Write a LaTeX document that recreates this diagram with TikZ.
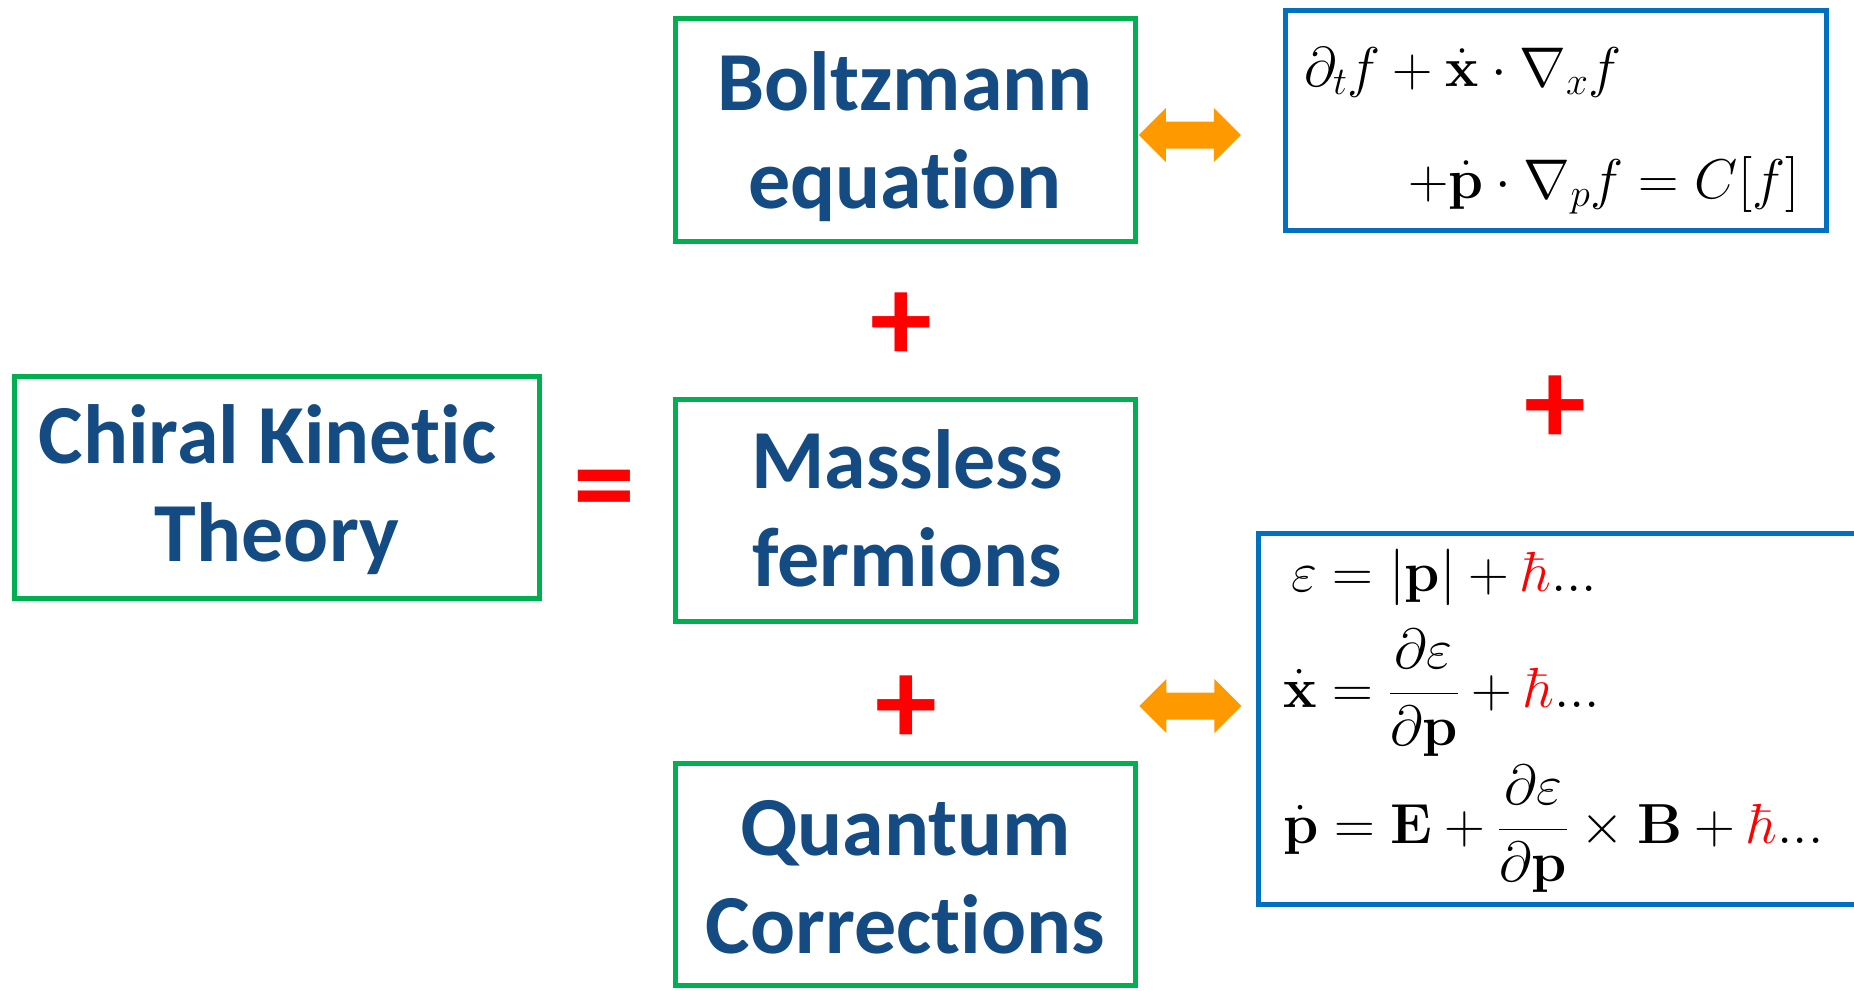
\RequirePackage{fix-cm}
\documentclass[tikz,border=0pt]{standalone}
\usepackage[no-math]{fontspec}
\newfontfamily\carl[Ligatures={NoCommon,NoRare,NoDiscretionary}]{Carlito}
\usetikzlibrary{calc}
\definecolor{gbox}{HTML}{00B050}
\definecolor{bbox}{HTML}{0070C0}
\definecolor{txt}{HTML}{134B82}
\definecolor{arr}{HTML}{FF9900}
\definecolor{redp}{HTML}{FF0000}
\begin{document}
\begin{tikzpicture}[x=1pt,y=-1pt,
  greenbox/.style={draw=gbox,line width=5pt,inner sep=0pt,minimum width=460pt,minimum height=222pt},
  bluebox/.style={draw=bbox,line width=4.5pt,inner sep=0pt},
  lbl/.style={font=\carl\bfseries\fontsize{84}{98}\selectfont,text=txt,align=center,inner sep=0pt,anchor=base},
  sym/.style={font=\carl\bfseries\fontsize{124}{124}\selectfont,text=redp,inner sep=0pt},
  eqt/.style={font=\fontsize{56}{60}\selectfont,inner sep=0pt,anchor=base west},
  eqb/.style={font=\fontsize{56.5}{60}\selectfont,inner sep=0pt,anchor=base west},
  dbl/.style={fill=arr}]
\useasboundingbox (0,0) rectangle (1854,990);
\clip (0,0) rectangle (1854,990);
\fill[white] (0,0) rectangle (1854,990);
% green boxes
\node[greenbox] (boltz) at (905.25,130) {};
\node[greenbox,minimum width=524.5pt] (chiral) at (276.75,487) {};
\node[greenbox] (mass) at (905.8,510) {};
\node[greenbox] (quant) at (905.25,874.25) {};
% labels (anchor = baseline of last line)
\node[lbl] (tboltz) at (905,208) {Boltzmann\\equation};
\node[lbl] (tchiral) at (277,561.5) {Chiral Kinetic\hspace*{19pt}\\Theory};
\node[lbl] (tmass) at (907,586.5) {Massless\\fermions};
\node[lbl] (tquant) at (905.5,953) {Quantum\\Corrections};
% symbols
\node[sym] (plusA) at (901,327) {+};
\node[sym] (plusB) at (906,710.5) {+};
\node[sym] (plusC) at (1555,410) {+};
\node[sym] (eqsign) at (604,498) {=};
% blue boxes
\node[bluebox,minimum width=541pt,minimum height=220pt] (btop) at (1556,120.5) {};
\node[bluebox,minimum width=641.5pt,minimum height=371pt] (bbot) at (1579.25,719) {};
% equations
\node[eqt] (e1) at (1304,86) {$\partial_t f+\dot{\mathbf{x}}\cdot\nabla_x f$};
\node[eqt] (e2) at (1408,198) {$+\dot{\mathbf{p}}\cdot\nabla_p f=C[f]$};
\node[eqb] (f1) at (1291,591) {$\varepsilon=|\mathbf{p}|+\textcolor{redp}{\hbar}...$};
\node[eqb] (f2) at (1283,707) {$\displaystyle\dot{\mathbf{x}}=\frac{\partial\varepsilon}{\partial\mathbf{p}}+\textcolor{redp}{\hbar}...$};
\node[eqb] (f3) at (1283,843) {$\displaystyle\dot{\mathbf{p}}=\mathbf{E}+\frac{\partial\varepsilon}{\partial\mathbf{p}}\times\mathbf{B}+\textcolor{redp}{\hbar}...$};
% double arrows
\fill[dbl] ($(boltz.east)+(1,5)$) -- ++(27,-27) -- ++(0,13.5) -- ++(48,0) -- ++(0,-13.5) -- ++(27,27) -- ++(-27,27) -- ++(0,-13.5) -- ++(-48,0) -- ++(0,13.5) -- cycle;
\fill[dbl] ($(mass.east|-plusB)+(1,-4.5)$) -- ++(27,-27) -- ++(0,13.5) -- ++(48,0) -- ++(0,-13.5) -- ++(27,27) -- ++(-27,27) -- ++(0,-13.5) -- ++(-48,0) -- ++(0,13.5) -- cycle;
\end{tikzpicture}
\end{document}
